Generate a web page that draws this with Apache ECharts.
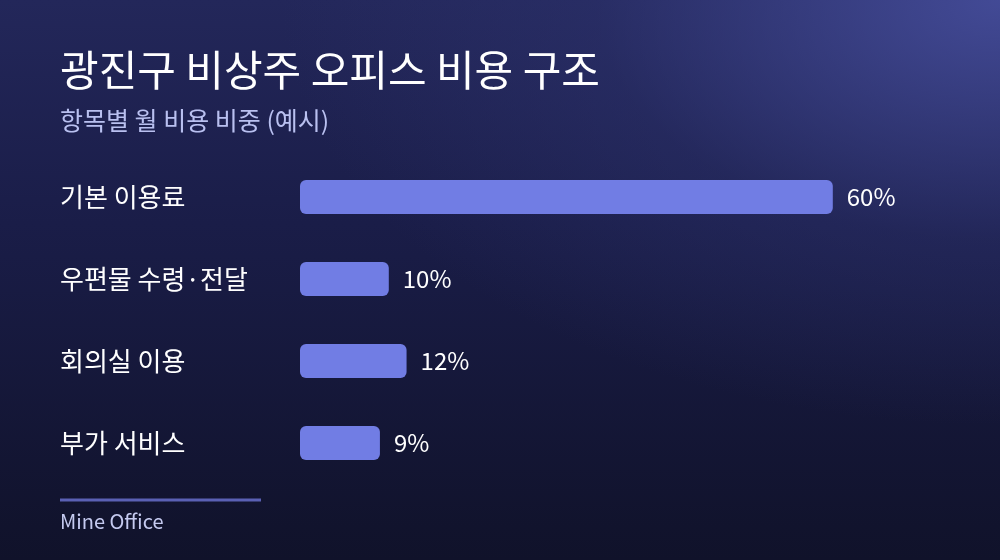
<!DOCTYPE html>
<html><head><meta charset="utf-8">
<script src="https://cdn.jsdelivr.net/npm/echarts@6/dist/echarts.min.js"></script>
<style>
html,body{margin:0;padding:0;width:1000px;height:560px;overflow:hidden}
#c{width:1000px;height:560px;background:radial-gradient(ellipse 90% 95% at 100% 0%, rgba(72,80,160,0.85) 0%, rgba(50,56,120,0.35) 45%, rgba(20,22,50,0) 80%),linear-gradient(180deg,#23275a 0%,#1a1d48 40%,#10122a 100%);}
</style></head>
<body><div id="c"></div>
<script>
const categories = ['기본 이용료', '우편물 수령·전달', '회의실 이용', '부가 서비스'];
const values = [60, 10, 12, 9];
const titleText = '광진구 비상주 오피스 비용 구조';
const subtitleText = '항목별 월 비용 비중 (예시)';
const footerText = 'Mine Office';

const font = '"Noto Sans CJK KR","Noto Sans",sans-serif';
const chart = echarts.init(document.getElementById('c'));
chart.setOption({
  backgroundColor: 'transparent',
  animation: false,
  textStyle: {fontFamily: font},
  title: {
    text: titleText, subtext: subtitleText, left: 55, top: 44,
    textStyle: {color: '#ffffff', fontSize: 42, fontWeight: 400, fontFamily: font},
    subtextStyle: {color: '#b9c0f0', fontSize: 25, fontFamily: font},
    itemGap: 17
  },
  grid: {left: 300, right: 78.4, top: 156, bottom: 76, containLabel: false},
  xAxis: {type: 'value', min: 0, max: 70, show: false},
  yAxis: {
    type: 'category', data: categories, inverse: true,
    axisLine: {show: false}, axisTick: {show: false}, splitLine: {show: false},
    axisLabel: {color: '#ffffff', fontSize: 26, align: 'left', margin: 240, fontFamily: font}
  },
  series: [{
    type: 'bar', data: values, barWidth: 34,
    itemStyle: {color: '#717de4', borderRadius: 6},
    label: {show: true, position: 'right', distance: 14, color: '#ffffff', fontSize: 24,
      fontFamily: font, formatter: p => p.value + '%'}
  }],
  graphic: [
    {type: 'rect', left: 60, top: 498.5, shape: {width: 201, height: 3}, style: {fill: '#5a60b4'}},
    {type: 'text', left: 60, top: 511, style: {text: footerText, fill: '#c5caf0', fontSize: 20, fontFamily: font}}
  ]
});
</script></body></html>
